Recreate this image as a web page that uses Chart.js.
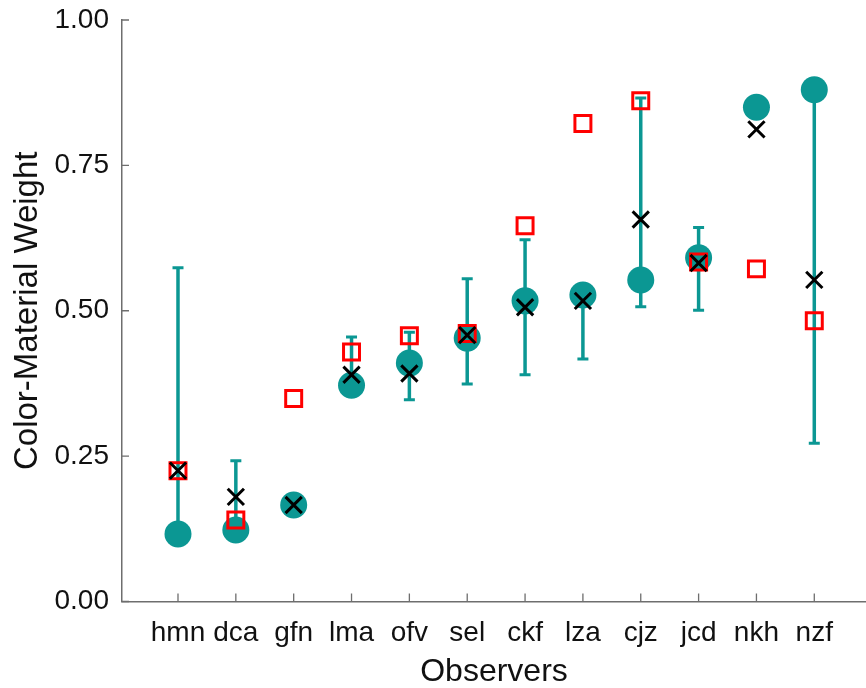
<!DOCTYPE html>
<html>
<head>
<meta charset="utf-8">
<script src="https://cdn.jsdelivr.net/npm/chart.js@4/dist/chart.umd.min.js"></script>
<style>
  html, body { margin: 0; padding: 0; background: #ffffff; }
  #wrap { width: 866px; height: 688px; }
</style>
</head>
<body>
<div id="wrap"><canvas id="c" width="866" height="688"></canvas></div>
<script>
// ---- data ----
const observers = ['hmn','dca','gfn','lma','ofv','sel','ckf','lza','cjz','jcd','nkh','nzf'];
// filled teal circles
const circleValues = [0.116, 0.123, 0.166, 0.372, 0.410, 0.453, 0.517, 0.527, 0.553, 0.591, 0.850, 0.880];
// black crosses
const crossValues  = [0.225, 0.180, 0.166, 0.390, 0.392, 0.458, 0.506, 0.517, 0.657, 0.582, 0.812, 0.553];
// red open squares
const squareValues = [0.225, 0.140, 0.349, 0.429, 0.457, 0.461, 0.646, 0.822, 0.861, 0.584, 0.572, 0.483];
// error bar limits (null = no visible bar)
const errLow  = [0.116, 0.123, null, 0.360, 0.347, 0.374, 0.390, 0.417, 0.507, 0.501, null, 0.272];
const errHigh = [0.574, 0.242, null, 0.455, 0.463, 0.555, 0.622, 0.535, 0.866, 0.643, null, 0.880];
const yTicks = [0, 0.25, 0.5, 0.75, 1.0];

const TEAL = '#0b9793';
const AXIS = '#6e6e6e';
const FONT = "'Liberation Sans', Arial, Helvetica, sans-serif";

const pts = arr => arr.map((v, i) => ({x: i, y: v}));

// error bar stems: pairs of points separated by gaps
const stems = [];
observers.forEach((o, i) => {
  if (errLow[i] !== null && errHigh[i] !== null) {
    stems.push({x: i, y: errLow[i]}, {x: i, y: errHigh[i]}, {x: i, y: null});
  }
});
const caps = [];
observers.forEach((o, i) => {
  if (errLow[i] !== null) caps.push({x: i, y: errLow[i]});
  if (errHigh[i] !== null) caps.push({x: i, y: errHigh[i]});
});

const innerTicks = {
  id: 'innerTicks',
  afterDraw(chart) {
    const ctx = chart.ctx;
    const xs = chart.scales.x, ys = chart.scales.y;
    ctx.save();
    ctx.strokeStyle = AXIS;
    ctx.lineWidth = 1.3;
    ctx.beginPath();
    ys.ticks.forEach(t => {
      const y = ys.getPixelForValue(t.value);
      ctx.moveTo(ys.right, y);
      ctx.lineTo(ys.right + 7, y);
    });
    xs.ticks.forEach(t => {
      const x = xs.getPixelForValue(t.value);
      ctx.moveTo(x, xs.top);
      ctx.lineTo(x, xs.top - 8);
    });
    ctx.stroke();
    ctx.restore();
  }
};

new Chart(document.getElementById('c'), {
  type: 'scatter',
  data: {
    datasets: [
      {
        type: 'line', label: 'range', data: stems, order: 5,
        borderColor: TEAL, borderWidth: 3.5, pointRadius: 0, spanGaps: false, fill: false
      },
      {
        label: 'caps', data: caps, order: 4,
        pointStyle: 'line', pointRadius: 5.5, borderColor: TEAL, borderWidth: 3,
        backgroundColor: TEAL
      },
      {
        label: 'circles', data: pts(circleValues), order: 3,
        pointStyle: 'circle', pointRadius: 13.5, backgroundColor: TEAL, borderWidth: 0
      },
      {
        label: 'squares', data: pts(squareValues), order: 2,
        pointStyle: 'rect', pointRadius: 11.3, backgroundColor: 'rgba(0,0,0,0)',
        borderColor: '#ff0000', borderWidth: 3
      },
      {
        label: 'crosses', data: pts(crossValues), order: 1,
        pointStyle: 'crossRot', pointRadius: 11.5, borderColor: '#000000', borderWidth: 3
      }
    ]
  },
  options: {
    responsive: false,
    animation: false,
    layout: { autoPadding: false, padding: { top: 20, right: 0, bottom: 0, left: 0 } },
    plugins: { legend: { display: false }, tooltip: { enabled: false } },
    elements: { point: { hoverRadius: 0 } },
    scales: {
      x: {
        type: 'linear',
        min: -0.968,
        max: 11.894,
        afterBuildTicks: s => { s.ticks = observers.map((o, i) => ({value: i})); },
        afterFit: s => { s.height = 86.5; s.paddingLeft = 0; s.paddingRight = 0; },
        grid: { display: true, drawOnChartArea: false, drawTicks: false },
        border: { display: true, color: AXIS, width: 1.5 },
        ticks: {
          autoSkip: false, maxRotation: 0, padding: 15,
          color: '#111111', font: { family: FONT, size: 28 },
          callback: v => observers[v] !== undefined ? observers[v] : ''
        },
        title: {
          display: true, text: 'Observers', color: '#111111',
          font: { family: FONT, size: 32, lineHeight: 1 },
          padding: { top: 0, bottom: 0 }
        }
      },
      y: {
        type: 'linear',
        min: 0, max: 1,
        afterBuildTicks: s => { s.ticks = yTicks.map(v => ({value: v})); },
        afterFit: s => { s.width = 122; s.paddingTop = 0; s.paddingBottom = 0; },
        grid: { display: true, drawOnChartArea: false, drawTicks: false },
        border: { display: true, color: AXIS, width: 1.5 },
        ticks: {
          padding: 13, color: '#111111', font: { family: FONT, size: 28 },
          callback: v => Number(v).toFixed(2)
        },
        title: {
          display: true, text: 'Color-Material Weight', color: '#111111',
          font: { family: FONT, size: 33, lineHeight: 1 },
          padding: { top: 11, bottom: 0 }
        }
      }
    }
  },
  plugins: [innerTicks]
});
</script>
</body>
</html>
